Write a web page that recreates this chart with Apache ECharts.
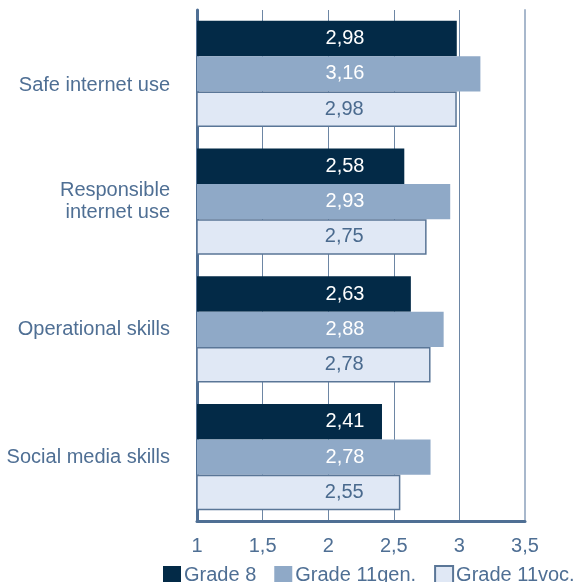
<!DOCTYPE html>
<html>
<head>
<meta charset="utf-8">
<script src="https://cdn.jsdelivr.net/npm/echarts@6/dist/echarts.min.js"></script>
<style>
  html, body { margin: 0; padding: 0; background: #fff; }
  #main { width: 574px; height: 582px; }
</style>
</head>
<body>
<div id="main"></div>
<script>
var categories = ['Safe internet use', 'Responsible\ninternet use', 'Operational skills', 'Social media skills'];
var grade8 = [2.98, 2.58, 2.63, 2.41];
var grade11gen = [3.16, 2.93, 2.88, 2.78];
var grade11voc = [2.98, 2.75, 2.78, 2.55];

var textColor = '#4f6f94';
var font = 'Liberation Sans, Arial, sans-serif';

function comma(v) {
    return String(v).replace('.', ',');
}

var myChart = echarts.init(document.getElementById('main'));

// bars; value labels all sit at the same x inside the bar
function barSeries(name, data, color, labelColor, border) {
    return {
        name: name,
        type: 'bar',
        data: data,
        barGap: '0%',
        barCategoryGap: '17%',
        itemStyle: {
            color: color,
            borderColor: border || color,
            borderWidth: border ? 1.5 : 0
        },
        label: {
            show: true,
            position: [148, '50%'],
            align: 'center',
            verticalAlign: 'middle',
            color: labelColor,
            fontSize: 20,
            fontFamily: font,
            formatter: function (p) { return p.value.toFixed(2).replace('.', ','); }
        }
    };
}

var option = {
    animation: false,
    textStyle: { fontFamily: font },
    grid: { left: 197, right: 49, top: 10, bottom: 61 },
    legend: {
        top: 565,
        left: 163,
        width: 480,
        padding: 0,
        icon: 'rect',
        itemWidth: 18,
        itemHeight: 18,
        itemGap: 18,
        textStyle: { color: textColor, fontSize: 20, fontFamily: font, padding: [0, 0, 0, -2] },
        data: ['Grade 8', 'Grade 11gen.', 'Grade 11voc.']
    },
    xAxis: {
        type: 'value',
        min: 1,
        max: 3.5,
        interval: 0.5,
        axisLine: { show: true, lineStyle: { color: '#4f6f94', width: 3 } },
        axisTick: { show: false },
        axisLabel: {
            color: textColor,
            fontSize: 20,
            margin: 15,
            fontFamily: font,
            formatter: comma
        },
        splitLine: { show: true, lineStyle: { color: '#6d86a4', width: 1 } }
    },
    yAxis: [{
        type: 'category',
        data: categories,
        inverse: true,
        axisLine: { show: true, lineStyle: { color: '#4f6f94', width: 3 } },
        axisTick: { show: false },
        axisLabel: {
            color: textColor,
            fontSize: 20,
            margin: 27,
            lineHeight: 22,
            align: 'right',
            fontFamily: font,
            // the first label sits a bit lower than its bars in the original
            formatter: function (v, i) {
                return i === 0 ? '{low|' + v + '}' : v;
            },
            rich: {
                low: {
                    color: textColor,
                    fontSize: 20,
                    fontFamily: font,
                    lineHeight: 22,
                    padding: [24, 0, 0, 0]
                }
            }
        }
    }, {
        type: 'category',
        data: categories,
        inverse: true,
        position: 'right',
        axisLine: { show: true, lineStyle: { color: '#a8b8cc', width: 2 } },
        axisTick: { show: false },
        axisLabel: { show: false }
    }],
    series: [
        barSeries('Grade 8', grade8, '#032a47', '#ffffff'),
        barSeries('Grade 11gen.', grade11gen, '#8fa9c7', '#ffffff'),
        barSeries('Grade 11voc.', grade11voc, '#e0e8f5', '#4a6a8e', '#5a7697')
    ]
};

myChart.setOption(option);
</script>
</body>
</html>
